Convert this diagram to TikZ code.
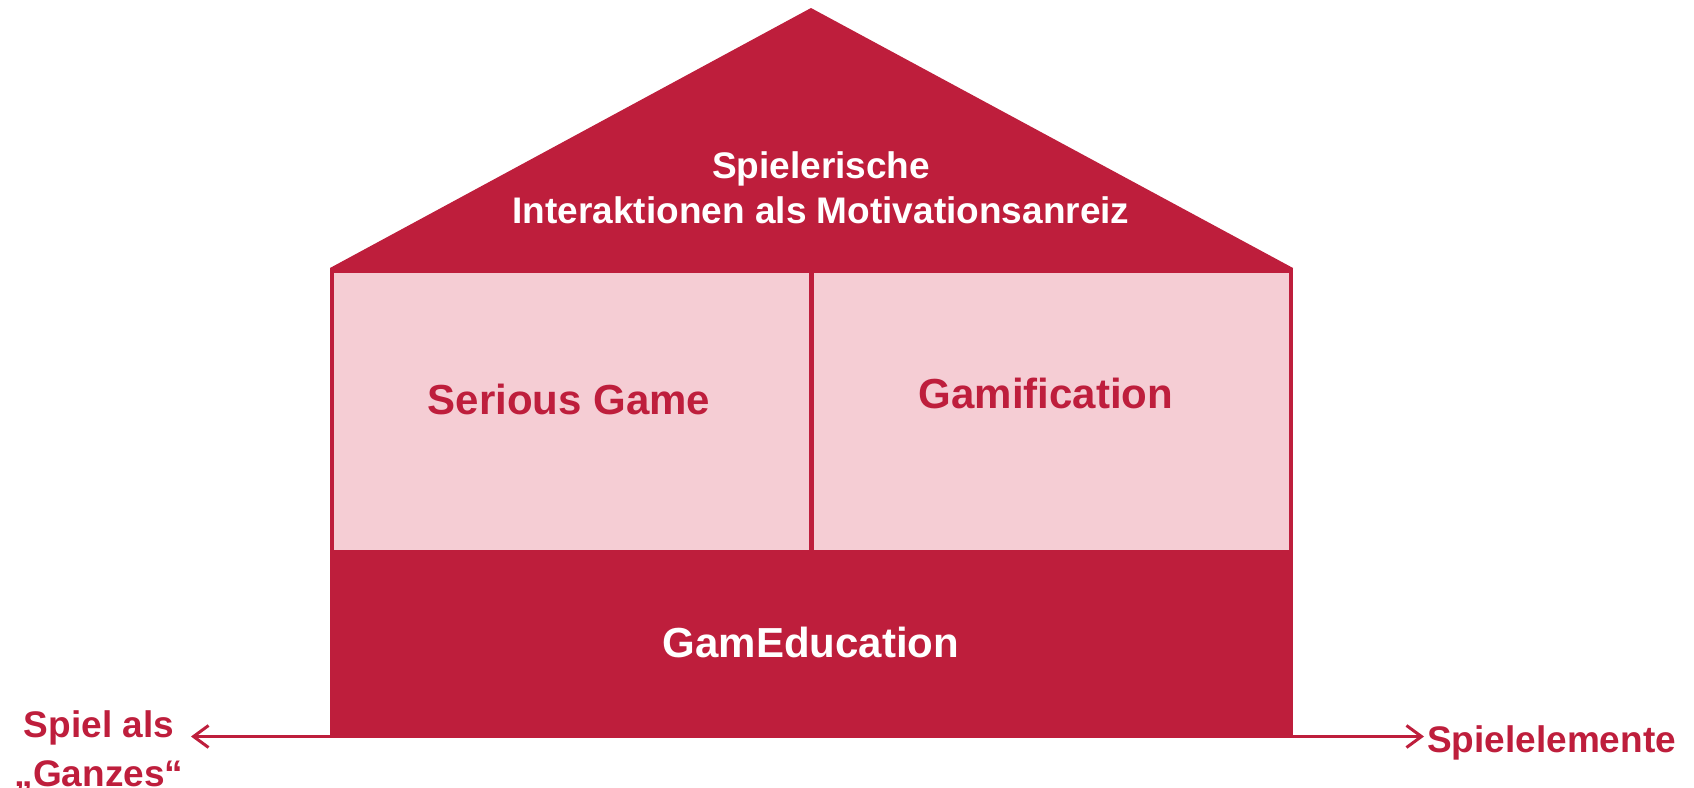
\documentclass[tikz,border=0pt]{standalone}
\usepackage{fontspec}
\setmainfont{Liberation Sans}
\usetikzlibrary{arrows.meta}
\definecolor{hred}{RGB}{190,30,60}
\definecolor{hpink}{RGB}{245,205,212}
\tikzset{
  pinkbox/.style={rectangle, fill=hpink, inner sep=0pt, minimum width=475pt, minimum height=277pt},
  whitetxt/.style={text=white, inner sep=0pt, font=\fontsize{37}{45}\selectfont\bfseries, align=center},
  boxtxt/.style={text=hred, inner sep=0pt, font=\fontsize{42}{50}\selectfont\bfseries},
  basetxt/.style={text=white, inner sep=0pt, font=\fontsize{42}{50}\selectfont\bfseries},
  sidetxt/.style={text=hred, inner sep=0pt, font=\fontsize{37}{49}\selectfont\bfseries, align=center},
  axis/.style={draw=hred, line width=3pt, -{Straight Barb[length=15pt,width=22pt]}}
}
\begin{document}
\begin{tikzpicture}[x=1pt,y=-1pt]
\useasboundingbox (0,0) rectangle (1694,787);
% house body and roof
\fill[hred] (330,268) -- (811,8) -- (1293,268) -- cycle;
\fill[hred] (330,268) rectangle (1293,738);
\coordinate (bl) at (330,736.5);
\coordinate (br) at (1293,736.5);
% pillars
\node[pinkbox] (sg) at (571.5,411.5) {};
\node[pinkbox] (gf) at (1051.5,411.5) {};
% texts
\node[whitetxt, anchor=north] (roof) at (821,151) {Spielerische\\Interaktionen als Motivationsanreiz};
\node[boxtxt, anchor=base] (sgt) at (569,414) {Serious Game};
\node[boxtxt, anchor=base] (gft) at (1046,408) {Gamification};
\node[basetxt, anchor=base] (ge) at (811,657) {GamEducation};
\node[sidetxt, anchor=north] (left) at (99,710) {Spiel als\\„Ganzes“};
\node[sidetxt, anchor=base west] (right) at (1427,752) {Spielelemente};
% arrows
\coordinate (lt) at (191,736.5);
\coordinate (rt) at (1424,736.5);
\draw[axis] (bl) -- (lt);
\draw[axis] (br) -- (rt);
\end{tikzpicture}
\end{document}
